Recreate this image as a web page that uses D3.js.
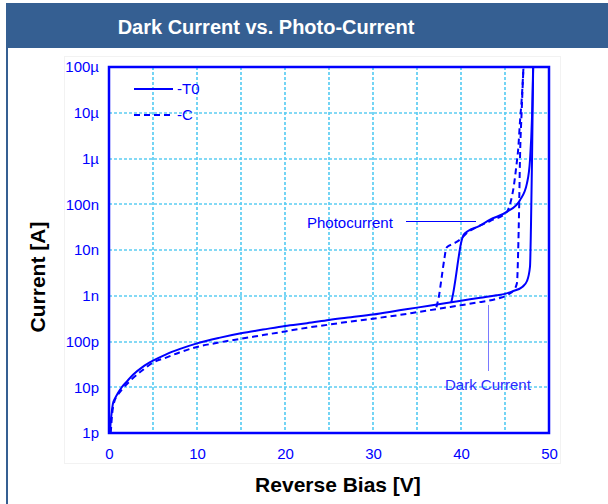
<!DOCTYPE html>
<html><head><meta charset="utf-8">
<script src="https://cdn.jsdelivr.net/npm/d3@7"></script>
<style>
html,body{margin:0;padding:0;background:#fff;}
svg{display:block;font-family:"Liberation Sans",Arial,sans-serif;}
</style></head>
<body>
<svg id="c" width="608" height="504"></svg>
<script>
// ---- data ----
const title = "Dark Current vs. Photo-Current";
const xTicks = [0, 10, 20, 30, 40, 50];
const yTicks = [1e-12, 1e-11, 1e-10, 1e-9, 1e-8, 1e-7, 1e-6, 1e-5, 1e-4];
const yTickLabels = ["1p", "10p", "100p", "1n", "10n", "100n", "1µ", "10µ", "100µ"];
const seriesNames = ["-T0", "-C"];

// T0 dark current (solid)
const t0DarkV = [0.1, 0.2, 0.3, 0.45, 0.7, 1, 1.45, 2, 2.76, 3.8, 5, 6.5, 8, 10, 12.5, 15, 17.5, 20, 22.5, 25, 27.5, 30, 33, 35, 38, 40, 42, 44, 45, 45.9, 47.0, 47.5, 47.84, 47.95, 48.07, 48.2];
const t0DarkI = [1e-12, 1.8e-12, 2.75e-12, 4.4e-12, 5.8e-12, 7.4e-12, 1.0e-11, 1.32e-11, 1.9e-11, 2.75e-11, 3.8e-11, 5.25e-11, 6.8e-11, 9.1e-11, 1.2e-10, 1.51e-10, 1.82e-10, 2.19e-10, 2.51e-10, 2.95e-10, 3.39e-10, 3.89e-10, 4.8e-10, 5.5e-10, 6.8e-10, 7.8e-10, 8.9e-10, 1.02e-9, 1.1e-9, 1.26e-9, 1.58e-9, 2.1e-9, 4.3e-9, 3.2e-8, 9.3e-7, 1e-4];
// C dark current (dashed)
const cDarkV = [0.2, 0.35, 0.6, 1, 1.5, 2.4, 3.8, 5, 6.5, 8, 10, 12.5, 15, 17.5, 20, 22.5, 25, 27.5, 30, 33, 35, 38, 40, 42, 44, 45.3, 46.0, 46.36, 46.5, 46.6, 46.7, 46.9, 47.1];
const cDarkI = [1e-12, 2.5e-12, 4.8e-12, 6.8e-12, 9.1e-12, 1.38e-11, 2.35e-11, 3.45e-11, 4.45e-11, 5.75e-11, 7.6e-11, 9.5e-11, 1.15e-10, 1.38e-10, 1.66e-10, 2.0e-10, 2.34e-10, 2.75e-10, 3.16e-10, 3.8e-10, 4.37e-10, 5.4e-10, 6.2e-10, 7.2e-10, 8.5e-10, 1.05e-9, 1.32e-9, 1.9e-9, 1e-8, 7.4e-8, 9.3e-7, 1.15e-5, 1e-4];
// T0 photocurrent (solid)
const t0PhotoV = [38.9, 39.1, 39.4, 39.7, 40.0, 40.3, 40.8, 42, 43.3, 45.2, 46.7, 47.5, 47.84, 48.07, 48.2];
const t0PhotoI = [7.2e-10, 1.1e-9, 2.5e-9, 6.3e-9, 1.4e-8, 2.15e-8, 2.6e-8, 3.3e-8, 4.6e-8, 6.8e-8, 1.23e-7, 2.9e-7, 9.3e-7, 8.1e-6, 1e-4];
// C photocurrent (dashed)
const cPhotoV = [37.2, 37.5, 37.8, 38.1, 38.35, 38.7, 39.5, 40.2, 40.6, 41.5, 43.3, 45.2, 45.6, 46.0, 46.3, 46.5, 46.7, 46.9, 47.1];
const cPhotoI = [5.6e-10, 1e-9, 2.5e-9, 6.3e-9, 1.12e-8, 1.26e-8, 1.5e-8, 1.9e-8, 2.3e-8, 2.95e-8, 4.3e-8, 6.8e-8, 1.05e-7, 2.5e-7, 7.1e-7, 1.6e-6, 6.3e-6, 2e-5, 1e-4];

// ---- layout ----
const svg = d3.select("#c");
const W = 608, H = 504;
const m = {left: 109, right: 549, top: 67, bottom: 433};
const blue = "#0000ff";
const gridCol = "#5ccdf2";
const snap = v => Math.round(v);

// panel frame + header
svg.append("rect").attr("x", 7).attr("y", 3).attr("width", W - 7).attr("height", 45).attr("fill", "#355f92");
svg.append("line").attr("x1", 7).attr("x2", 7).attr("y1", 3).attr("y2", H).attr("stroke", "#355f92").attr("stroke-width", 2);
svg.append("text").attr("x", 266).attr("y", 34).attr("text-anchor", "middle")
  .attr("fill", "#fff").attr("font-weight", "bold").attr("font-size", 20).text(title);

// faint chart image border
svg.append("rect").attr("x", 64.5).attr("y", 56.5).attr("width", 496).attr("height", 407)
  .attr("fill", "none").attr("stroke", "#f2f2f2");

const x = d3.scaleLinear().domain([0, 50]).range([m.left, m.right]);
const y = d3.scaleLog().domain([1e-12, 1e-4]).range([m.bottom, m.top]);

// grid
const gx = d3.range(5, 50, 5);
svg.append("g").selectAll("line").data(gx).join("line")
  .attr("x1", d => snap(x(d))).attr("x2", d => snap(x(d))).attr("y1", m.top).attr("y2", m.bottom)
  .attr("stroke", gridCol).attr("stroke-width", 1.7).attr("stroke-dasharray", "3,2");
svg.append("g").selectAll("line").data(yTicks.slice(1, -1)).join("line")
  .attr("x1", m.left).attr("x2", m.right).attr("y1", d => snap(y(d))).attr("y2", d => snap(y(d)))
  .attr("stroke", gridCol).attr("stroke-width", 1.7).attr("stroke-dasharray", "3,2");

// axes
const ax = svg.append("g").attr("transform", `translate(0,${m.bottom})`)
  .call(d3.axisBottom(x).tickValues(xTicks).tickSize(0).tickPadding(15).tickFormat(d3.format("d")));
ax.select(".domain").remove();
ax.selectAll("text").attr("fill", blue).attr("font-size", 15).attr("font-family", "Liberation Sans, Arial, sans-serif");

const ay = svg.append("g").attr("transform", `translate(${m.left},0)`)
  .call(d3.axisLeft(y).tickValues(yTicks).tickSize(0).tickPadding(10).tickFormat((d, i) => yTickLabels[i]));
ay.select(".domain").remove();
ay.selectAll("text").attr("fill", blue).attr("font-size", 15).attr("font-family", "Liberation Sans, Arial, sans-serif");

// clip
svg.append("clipPath").attr("id", "clip").append("rect")
  .attr("x", m.left).attr("y", m.top).attr("width", m.right - m.left).attr("height", m.bottom - m.top);

const line = d3.line().x(d => x(d[0])).y(d => y(d[1])).curve(d3.curveMonotoneX);
const zip = (a, b) => a.map((v, i) => [v, b[i]]);
const plot = svg.append("g").attr("clip-path", "url(#clip)");
const series = [
  {v: t0DarkV, i: t0DarkI, dash: null},
  {v: t0PhotoV, i: t0PhotoI, dash: null},
  {v: cDarkV, i: cDarkI, dash: "6,4"},
  {v: cPhotoV, i: cPhotoI, dash: "6,4"}
];
series.forEach(s => {
  plot.append("path").attr("d", line(zip(s.v, s.i))).attr("fill", "none")
    .attr("stroke", blue).attr("stroke-width", 2).attr("stroke-dasharray", s.dash);
});

// plot frame
svg.append("rect").attr("x", m.left).attr("y", m.top).attr("width", m.right - m.left).attr("height", m.bottom - m.top)
  .attr("fill", "none").attr("stroke", blue).attr("stroke-width", 2.5);

// legend
const leg = svg.append("g");
[[89, null, seriesNames[0]], [115, "6,4", seriesNames[1]]].forEach(([ly, dash, name]) => {
  leg.append("line").attr("x1", 134).attr("x2", dash ? 170 : 173).attr("y1", ly).attr("y2", ly)
    .attr("stroke", blue).attr("stroke-width", 2).attr("stroke-dasharray", dash);
  leg.append("text").attr("x", 177).attr("y", ly + 5).attr("fill", blue).attr("font-size", 15).text(name);
});

// annotations
svg.append("text").attr("x", 307).attr("y", 228).attr("fill", blue).attr("font-size", 15).text("Photocurrent");
svg.append("line").attr("x1", 406).attr("x2", 476).attr("y1", 221.5).attr("y2", 221.5).attr("stroke", blue).attr("stroke-width", 1);
svg.append("text").attr("x", 445).attr("y", 390).attr("fill", "#2a2aff").attr("font-size", 15).text("Dark Current");
svg.append("line").attr("x1", 488.5).attr("x2", 488.5).attr("y1", 305).attr("y2", 371).attr("stroke", "#7a7aff").attr("stroke-width", 1);

// axis titles
svg.append("text").attr("x", 338).attr("y", 492).attr("text-anchor", "middle")
  .attr("font-weight", "bold").attr("font-size", 21).attr("fill", "#000").text("Reverse Bias [V]");
svg.append("text").attr("transform", "translate(45,277) rotate(-90)").attr("text-anchor", "middle")
  .attr("font-weight", "bold").attr("font-size", 21).attr("fill", "#000").text("Current [A]");
</script>
</body></html>
